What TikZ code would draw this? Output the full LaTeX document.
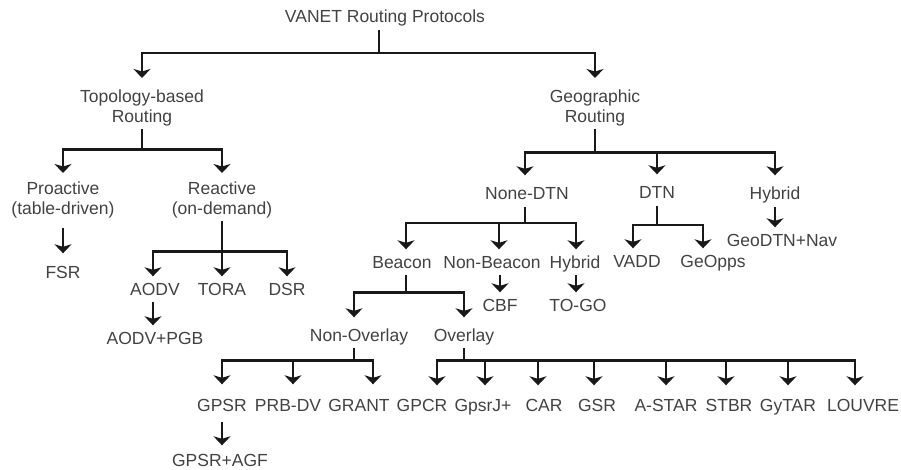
\documentclass[tikz,border=0pt]{standalone}
\usepackage{fontspec}
\setmainfont{Liberation Sans}
\usetikzlibrary{arrows.meta}

\colorlet{entry text}{black!74}
\colorlet{link edge}{black!90}
\tikzset{entry/.style={text=entry text, font=\fontsize{17.5}{19.5}\selectfont, align=center,
        inner xsep=1pt, inner ysep=3pt},
    leaf/.style={entry, anchor=base, text height=12.5pt, text depth=4pt},
    twoline/.style={entry, anchor=north},
    link/.style={draw=link edge, line width=2.6pt, -{Stealth[length=9pt,width=17pt,inset=2.5pt]},
        shorten >=3pt}}

\begin{document}
\begin{tikzpicture}[x=1pt, y=-1pt]
        \useasboundingbox (0,0) rectangle (901,470);

        % Root and the two families
        \node[leaf] (root) at (385,23) {VANET Routing Protocols};
        \node[twoline] (topo) at (142,87) {Topology-based\\Routing};
        \node[twoline] (geo) at (595,87) {Geographic\\Routing};
        \draw[link, shorten >=9pt] ([xshift=-6pt]root.south) -- ++(0,23) -| (topo.north);
        \draw[link, shorten >=9pt] ([xshift=-6pt]root.south) -- ++(0,23) -| (geo.north);

        % Topology-based routing
        \node[twoline] (pro) at (63,179) {Proactive\\(table-driven)};
        \node[twoline] (reac) at (222,179) {Reactive\\(on-demand)};
        \draw[link, shorten >=6pt] (topo.south) -- ++(0,20) -| (pro.north);
        \draw[link, shorten >=6pt] (topo.south) -- ++(0,20) -| (reac.north);

        \node[leaf] (fsr) at (63,278) {FSR};
        \draw[link, shorten <=7pt, shorten >=9pt] (pro.south) -- (fsr.north);

        \node[leaf] (aodv) at (155,295) {AODV};
        \node[leaf] (tora) at (222,295) {TORA};
        \node[leaf] (dsr) at (287,295) {DSR};
        \draw[link] (reac.south) -- ++(0,30) -| ([xshift=-2pt]aodv.north);
        \draw[link] (reac.south) -- ++(0,30) -| (dsr.north);
        \draw[link] (tora.north |- reac.south) -- (tora.north);

        \node[leaf] (pgb) at (155,344) {AODV+PGB};
        \draw[link] ([xshift=-2pt]aodv.south) -- ([xshift=-2pt]pgb.north);

        % Geographic routing
        \node[leaf] (nodtn) at (527,200) {None-DTN};
        \node[leaf] (dtn) at (657,199) {DTN};
        \node[leaf] (hyb) at (775,200) {Hybrid};
        \draw[link, shorten >=9pt] (geo.south) -- ++(0,23) -| ([xshift=-2pt]nodtn.north);
        \draw[link, shorten >=9pt] (geo.south) -- ++(0,23) -| (dtn.north);
        \draw[link, shorten >=9pt] (geo.south) -- ++(0,23) -| (hyb.north);

        \node[leaf] (gdtn) at (782,246) {GeoDTN+Nav};
        \draw[link] (hyb.south) -- (hyb.south |- gdtn.north);

        \node[leaf] (vadd) at (637,267) {VADD};
        \node[leaf] (geopps) at (713,267) {GeOpps};
        \draw[link] (dtn.south) -- ++(0,19) -| ([xshift=-4pt]vadd.north);
        \draw[link] (dtn.south) -- ++(0,19) -| ([xshift=-10pt]geopps.north);

        % None-DTN
        \node[leaf] (beacon) at (402,268) {Beacon};
        \node[leaf] (nb) at (492,268) {Non-Beacon};
        \node[leaf] (hyb2) at (575,268) {Hybrid};
        \draw[link] ([xshift=-2pt]nodtn.south) -- ++(0,16) -| ([xshift=4pt]beacon.north);
        \draw[link] ([xshift=-2pt]nodtn.south) -- ++(0,16) -| ([xshift=7pt]nb.north);
        \draw[link] ([xshift=-2pt]nodtn.south) -- ++(0,16) -| ([xshift=1pt]hyb2.north);

        \node[leaf] (cbf) at (500,311) {CBF};
        \node[leaf] (togo) at (578,311) {TO-GO};
        \draw[link] (cbf.north |- nb.south) -- (cbf.north);
        \draw[link] ([xshift=-2pt]togo.north |- hyb2.south) -- ([xshift=-2pt]togo.north);

        % Beacon
        \node[leaf] (nonov) at (359,341) {Non-Overlay};
        \node[leaf] (overlay) at (464,341) {Overlay};
        \draw[link, shorten >=8pt] ([xshift=4pt]beacon.south) -- ++(0,17) -| ([xshift=-5pt]nonov.north);
        \draw[link, shorten >=8pt] ([xshift=4pt]beacon.south) -- ++(0,17) -| (overlay.north);

        % Non-Overlay
        \node[leaf] (gpsr) at (222,411) {GPSR};
        \node[leaf] (prbdv) at (288,411) {PRB-DV};
        \node[leaf] (grant) at (359,411) {GRANT};
        \draw[link, shorten >=11pt] ([xshift=-5pt]nonov.south) -- ++(0,12) -| (gpsr.north);
        \draw[link, shorten >=11pt] ([xshift=-5pt]nonov.south) -- ++(0,12) -| ([xshift=5pt]prbdv.north);
        \draw[link, shorten >=11pt] ([xshift=-5pt]nonov.south) -- ++(0,12) -| ([xshift=14pt]grant.north);

        \node[leaf] (agf) at (220,466) {GPSR+AGF};
        \draw[link, shorten <=4pt, shorten >=5pt] (gpsr.south) -- (gpsr.south |- agf.north);

        % Overlay
        \node[leaf] (gpcr) at (422,411) {GPCR};
        \node[leaf] (gpsrj) at (483,411) {GpsrJ+};
        \node[leaf] (car) at (544,411) {CAR};
        \node[leaf] (gsr) at (597,411) {GSR};
        \node[leaf] (astar) at (666,411) {A-STAR};
        \node[leaf] (stbr) at (729,411) {STBR};
        \node[leaf] (gytar) at (788,411) {GyTAR};
        \node[leaf] (louvre) at (863,411) {LOUVRE};
        \draw[link, shorten >=10pt] (overlay.south) -- ++(0,12) -| ([xshift=15pt]gpcr.north);
        \draw[link, shorten >=10pt] (overlay.south) -- ++(0,12) -| ([xshift=2pt]gpsrj.north);
        \draw[link, shorten >=10pt] (overlay.south) -- ++(0,12) -| ([xshift=-6pt]car.north);
        \draw[link, shorten >=10pt] (overlay.south) -- ++(0,12) -| ([xshift=-3pt]gsr.north);
        \draw[link, shorten >=10pt] (overlay.south) -- ++(0,12) -| (astar.north);
        \draw[link, shorten >=10pt] (overlay.south) -- ++(0,12) -| ([xshift=-3pt]stbr.north);
        \draw[link, shorten >=10pt] (overlay.south) -- ++(0,12) -| (gytar.north);
        \draw[link, shorten >=10pt] (overlay.south) -- ++(0,12) -| ([xshift=-8pt]louvre.north);
    \end{tikzpicture}
\end{document}
